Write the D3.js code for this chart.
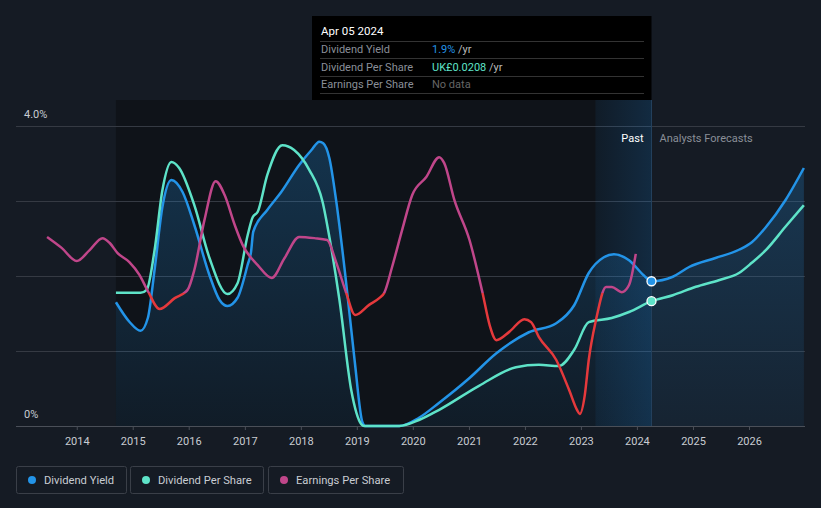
<!DOCTYPE html>
<html>
<head>
<meta charset="utf-8">
<script src="https://cdn.jsdelivr.net/npm/d3@7/dist/d3.min.js"></script>
<style>
  html, body { margin: 0; padding: 0; background: #151b24; }
  svg { display: block; }
  text { font-family: Roboto, "Noto Sans", sans-serif; }
</style>
</head>
<body>
<svg id="chart" width="821" height="508"></svg>
<script>
// ---------- DATA (dates as decimal years) ----------
const yieldDates = [2014.70, 2014.94, 2015.14, 2015.27, 2015.39, 2015.53, 2015.69, 2015.89, 2016.10, 2016.37,
  2016.55, 2016.69, 2016.87, 2017.05, 2017.11, 2017.15, 2017.40, 2017.65, 2017.97, 2018.19,
  2018.33, 2018.40, 2018.51, 2018.63, 2018.79, 2018.96, 2019.10, 2019.15, 2019.76, 2020.11,
  2020.47, 2021.01, 2021.49, 2022.07, 2022.56, 2022.88, 2023.14, 2023.41, 2023.59, 2023.86,
  2024.12, 2024.26];
const yieldValues = [1.65, 1.39, 1.27, 1.44, 2.08, 2.92, 3.28, 3.12, 2.68, 2.01,
  1.68, 1.60, 1.71, 2.15, 2.32, 2.59, 2.88, 3.12, 3.48, 3.68,
  3.79, 3.77, 3.57, 3.01, 2.04, 0.88, 0.05, 0, 0, 0.11,
  0.31, 0.64, 0.97, 1.25, 1.37, 1.61, 2.04, 2.25, 2.29, 2.21,
  2.01, 1.93];
const yieldForecastDates = [2024.64, 2024.93, 2025.40, 2025.82, 2026.05, 2026.30, 2026.65, 2026.98];
const yieldForecastValues = [1.99, 2.12, 2.24, 2.35, 2.45, 2.65, 3.01, 3.44];

const dpsDates = [2014.70, 2015.14, 2015.25, 2015.39, 2015.53, 2015.69, 2015.83, 2016.10, 2016.37, 2016.69,
  2016.87, 2017.05, 2017.14, 2017.23, 2017.40, 2017.67, 2017.88, 2018.15, 2018.39, 2018.51,
  2018.69, 2018.90, 2019.08, 2019.13, 2019.76, 2020.11, 2020.47, 2021.18, 2021.84, 2022.25,
  2022.61, 2022.88, 2023.14, 2023.55, 2023.86, 2024.26];
const dpsValues = [0.0222, 0.0222, 0.0227, 0.0293, 0.0393, 0.0440, 0.0430, 0.0368, 0.0280, 0.0220,
  0.0238, 0.0318, 0.0348, 0.0357, 0.0418, 0.0468, 0.0460, 0.0427, 0.0373, 0.0315,
  0.0210, 0.0060, 0.0003, 0, 0, 0.0010, 0.0027, 0.0067, 0.0098, 0.0102,
  0.0100, 0.0127, 0.0173, 0.0180, 0.0190, 0.0208];
const dpsForecastDates = [2024.64, 2025.05, 2025.46, 2025.82, 2026.05, 2026.30, 2026.65, 2026.98];
const dpsForecastValues = [0.0218, 0.0232, 0.0243, 0.0255, 0.0272, 0.0293, 0.0332, 0.0368];

const epsDates = [2013.47, 2013.73, 2014.00, 2014.23, 2014.46, 2014.59, 2014.73, 2014.94, 2015.12, 2015.27,
  2015.48, 2015.75, 2015.98, 2016.10, 2016.28, 2016.48, 2016.64, 2016.82, 2016.96, 2017.23,
  2017.48, 2017.71, 2017.97, 2018.24, 2018.47, 2018.63, 2018.81, 2018.97, 2019.22, 2019.40,
  2019.49, 2019.63, 2019.81, 2019.99, 2020.24, 2020.47, 2020.56, 2020.74, 2021.01, 2021.24,
  2021.37, 2021.49, 2021.72, 2021.99, 2022.11, 2022.25, 2022.56, 2022.79, 2022.93, 2022.98,
  2023.07, 2023.14, 2023.27, 2023.45, 2023.55, 2023.73, 2023.86, 2023.98];
const epsValues = [0.0504, 0.0475, 0.0440, 0.0469, 0.0501, 0.0488, 0.0461, 0.0437, 0.0403, 0.0360,
  0.0312, 0.0341, 0.0363, 0.0416, 0.0549, 0.0653, 0.0616, 0.0536, 0.0483, 0.0429,
  0.0395, 0.0448, 0.0504, 0.0501, 0.0496, 0.0437, 0.0355, 0.0296, 0.0323, 0.0341,
  0.0355, 0.0424, 0.0523, 0.0616, 0.0664, 0.0717, 0.0701, 0.0603, 0.0496, 0.0357,
  0.0269, 0.0229, 0.0251, 0.0285, 0.0277, 0.0237, 0.0176, 0.0096, 0.0043, 0.0032,
  0.0083, 0.0176, 0.0283, 0.0371, 0.0371, 0.0357, 0.0376, 0.0459];
const epsThreshold = 0.0355;

const xTickYears = [2014, 2015, 2016, 2017, 2018, 2019, 2020, 2021, 2022, 2023, 2024, 2025, 2026];
const yTickValues = [0, 1, 2, 3, 4];
const yTickLabels = {0: "0%", 4: "4.0%"};
const nowDate = 2024.26;
const pastBandStart = 2023.26;

const legendItems = ["Dividend Yield", "Dividend Per Share", "Earnings Per Share"];
const tooltipDate = "Apr 05 2024";
const tooltipRows = [
  {label: "Dividend Yield", value: "1.9%", unit: " /yr"},
  {label: "Dividend Per Share", value: "UK£0.0208", unit: " /yr"},
  {label: "Earnings Per Share", value: "No data", unit: ""}
];

// ---------- helpers ----------
function toDate(yv) {
  const yr = Math.floor(yv);
  const start = new Date(yr, 0, 1), end = new Date(yr + 1, 0, 1);
  return new Date(start.getTime() + (yv - yr) * (end - start));
}
const zip = (ds, vs) => ds.map((d, i) => ({date: toDate(d), v: vs[i]}));

const colors = {
  yield: "#2394e8", dps: "#5ee3c8", epsPos: "#c0468a", epsNeg: "#e5393c",
  grid: "#353a43", axis: "#4a4f58", text: "#c8ccd2", dim: "#8a8f98"
};

const svg = d3.select("#chart");
const W = 821, H = 508;
const pL = 16, pR = 805, pT = 126, pB = 426;

const x = d3.scaleTime().domain([new Date(2012, 11, 1), new Date(2027, 0, 1)]).range([pL, pR]);
const y = d3.scaleLinear().domain([0, 4]).range([pB, pT]);
const yDps = d3.scaleLinear().domain([0, 0.05]).range([pB, pT]);
const yEps = d3.scaleLinear().domain([0, 0.08]).range([pB, pT]);

const yieldData = zip(yieldDates, yieldValues).concat(zip(yieldForecastDates, yieldForecastValues));
const dpsData = zip(dpsDates, dpsValues).concat(zip(dpsForecastDates, dpsForecastValues));
const epsData = zip(epsDates, epsValues);

const defs = svg.append("defs");
const ag = defs.append("linearGradient").attr("id", "areaGrad")
  .attr("gradientUnits", "userSpaceOnUse").attr("x1", 0).attr("x2", 0).attr("y1", pT).attr("y2", pB);
ag.append("stop").attr("offset", "0%").attr("stop-color", "#2394e8").attr("stop-opacity", 0.26);
ag.append("stop").attr("offset", "100%").attr("stop-color", "#2394e8").attr("stop-opacity", 0.07);

const bg = defs.append("linearGradient").attr("id", "bandGrad").attr("x1", 0).attr("x2", 1).attr("y1", 0).attr("y2", 0);
bg.append("stop").attr("offset", "0%").attr("stop-color", "#1f7fd0").attr("stop-opacity", 0.08);
bg.append("stop").attr("offset", "100%").attr("stop-color", "#1f7fd0").attr("stop-opacity", 0.22);

// dark past region
const pastX0 = x(toDate(yieldDates[0])), nowX = x(toDate(nowDate));
svg.append("rect").attr("x", pastX0).attr("y", 100).attr("width", nowX - pastX0).attr("height", pB - 100)
  .attr("fill", "#0f1319");

// gridlines
svg.append("g").selectAll("line").data(yTickValues.filter(d => d > 0)).join("line")
  .attr("x1", pL).attr("x2", pR).attr("y1", d => y(d) + 0.5).attr("y2", d => y(d) + 0.5)
  .attr("stroke", colors.grid).attr("stroke-width", 1);

// area under yield
svg.append("path").datum(yieldData)
  .attr("d", d3.area().x(d => x(d.date)).y0(pB).y1(d => y(d.v)).curve(d3.curveMonotoneX))
  .attr("fill", "url(#areaGrad)");

// last-year band
const bandX0 = x(toDate(pastBandStart));
svg.append("rect").attr("x", bandX0).attr("y", 100).attr("width", nowX - bandX0).attr("height", pB - 100)
  .attr("fill", "url(#bandGrad)");

// now line
svg.append("line").attr("x1", nowX).attr("x2", nowX).attr("y1", 100).attr("y2", pB)
  .attr("stroke", "#24415e").attr("stroke-width", 1);

// x axis
const xAxis = d3.axisBottom(x).tickValues(xTickYears.map(yr => new Date(yr, 0, 1)))
  .tickFormat(d3.timeFormat("%Y")).tickSize(4).tickSizeOuter(0);
const gx = svg.append("g").attr("transform", `translate(0,${pB})`).call(xAxis);
gx.select(".domain").attr("stroke", colors.axis).attr("d", `M${pL},0.5H${pR}`);
gx.selectAll(".tick line").attr("stroke", colors.axis);
gx.selectAll(".tick text").attr("fill", colors.text).attr("font-size", 11).attr("dy", "1.05em")
  .attr("font-family", "Roboto, sans-serif");

// y labels
svg.append("g").selectAll("text").data(yTickValues.filter(d => yTickLabels[d])).join("text")
  .attr("x", 24).attr("y", d => y(d) - 8).text(d => yTickLabels[d])
  .attr("fill", colors.text).attr("font-size", 11);

// lines
const line = (ys) => d3.line().x(d => x(d.date)).y(d => ys(d.v)).curve(d3.curveMonotoneX);
svg.append("path").datum(yieldData).attr("d", line(y)).attr("fill", "none")
  .attr("stroke", colors.yield).attr("stroke-width", 2.5);
svg.append("path").datum(dpsData).attr("d", line(yDps)).attr("fill", "none")
  .attr("stroke", colors.dps).attr("stroke-width", 2.5);

// eps two-color by threshold
const thrY = yEps(epsThreshold);
defs.append("clipPath").attr("id", "clipAbove").append("rect").attr("x", 0).attr("y", 0).attr("width", W).attr("height", thrY);
defs.append("clipPath").attr("id", "clipBelow").append("rect").attr("x", 0).attr("y", thrY).attr("width", W).attr("height", H - thrY);
svg.append("path").datum(epsData).attr("d", line(yEps)).attr("fill", "none")
  .attr("stroke", colors.epsPos).attr("stroke-width", 2.5).attr("clip-path", "url(#clipAbove)");
svg.append("path").datum(epsData).attr("d", line(yEps)).attr("fill", "none")
  .attr("stroke", colors.epsNeg).attr("stroke-width", 2.5).attr("clip-path", "url(#clipBelow)");

// now dots
const lastYield = yieldData.find(d => +d.date === +toDate(nowDate));
const lastDps = dpsData.find(d => +d.date === +toDate(nowDate));
svg.append("circle").attr("cx", nowX).attr("cy", y(lastYield.v)).attr("r", 4.5)
  .attr("fill", colors.yield).attr("stroke", "#fff").attr("stroke-width", 1.3);
svg.append("circle").attr("cx", nowX).attr("cy", yDps(lastDps.v)).attr("r", 4.5)
  .attr("fill", colors.dps).attr("stroke", "#fff").attr("stroke-width", 1.3);

// Past / Analysts Forecasts
svg.append("text").attr("x", nowX - 8).attr("y", 142).attr("text-anchor", "end")
  .attr("fill", "#ffffff").attr("font-size", 11).text("Past");
svg.append("text").attr("x", nowX + 8).attr("y", 142)
  .attr("fill", colors.dim).attr("font-size", 11).text("Analysts Forecasts");

// tooltip
const tt = svg.append("g");
tt.append("rect").attr("x", 312).attr("y", 16).attr("width", nowX - 312).attr("height", 84).attr("fill", "#000");
tt.append("text").attr("x", 321).attr("y", 35).attr("fill", "#fff").attr("font-size", 11.5).text(tooltipDate);
const sepYs = [41, 58, 76, 93];
tt.selectAll("line").data(sepYs).join("line")
  .attr("x1", 320).attr("x2", 644).attr("y1", d => d + 0.5).attr("y2", d => d + 0.5)
  .attr("stroke", "#333").attr("stroke-width", 1);
const valColors = [colors.yield, colors.dps, "#666"];
tooltipRows.forEach((r, i) => {
  const by = 53 + i * 17.5;
  tt.append("text").attr("x", 321).attr("y", by).attr("fill", "#8a8f98").attr("font-size", 11).text(r.label);
  const t = tt.append("text").attr("x", 432).attr("y", by).attr("font-size", 11);
  t.append("tspan").attr("fill", valColors[i]).text(r.value);
  if (r.unit) t.append("tspan").attr("fill", "#bbb").text(r.unit);
});

// legend
const legendColors = [colors.yield, colors.dps, colors.epsPos];
const legendX = [16, 130, 268], legendW = [110, 133, 135];
legendItems.forEach((name, i) => {
  const g = svg.append("g").attr("transform", `translate(${legendX[i]},466)`);
  g.append("rect").attr("x", 0.5).attr("y", 0.5).attr("width", legendW[i]).attr("height", 27).attr("rx", 2)
    .attr("fill", "none").attr("stroke", "#3a3f48");
  g.append("circle").attr("cx", 16).attr("cy", 14).attr("r", 4).attr("fill", legendColors[i]);
  g.append("text").attr("x", 28).attr("y", 17.5).attr("fill", colors.text).attr("font-size", 11.2).text(name);
});
</script>
</body>
</html>
